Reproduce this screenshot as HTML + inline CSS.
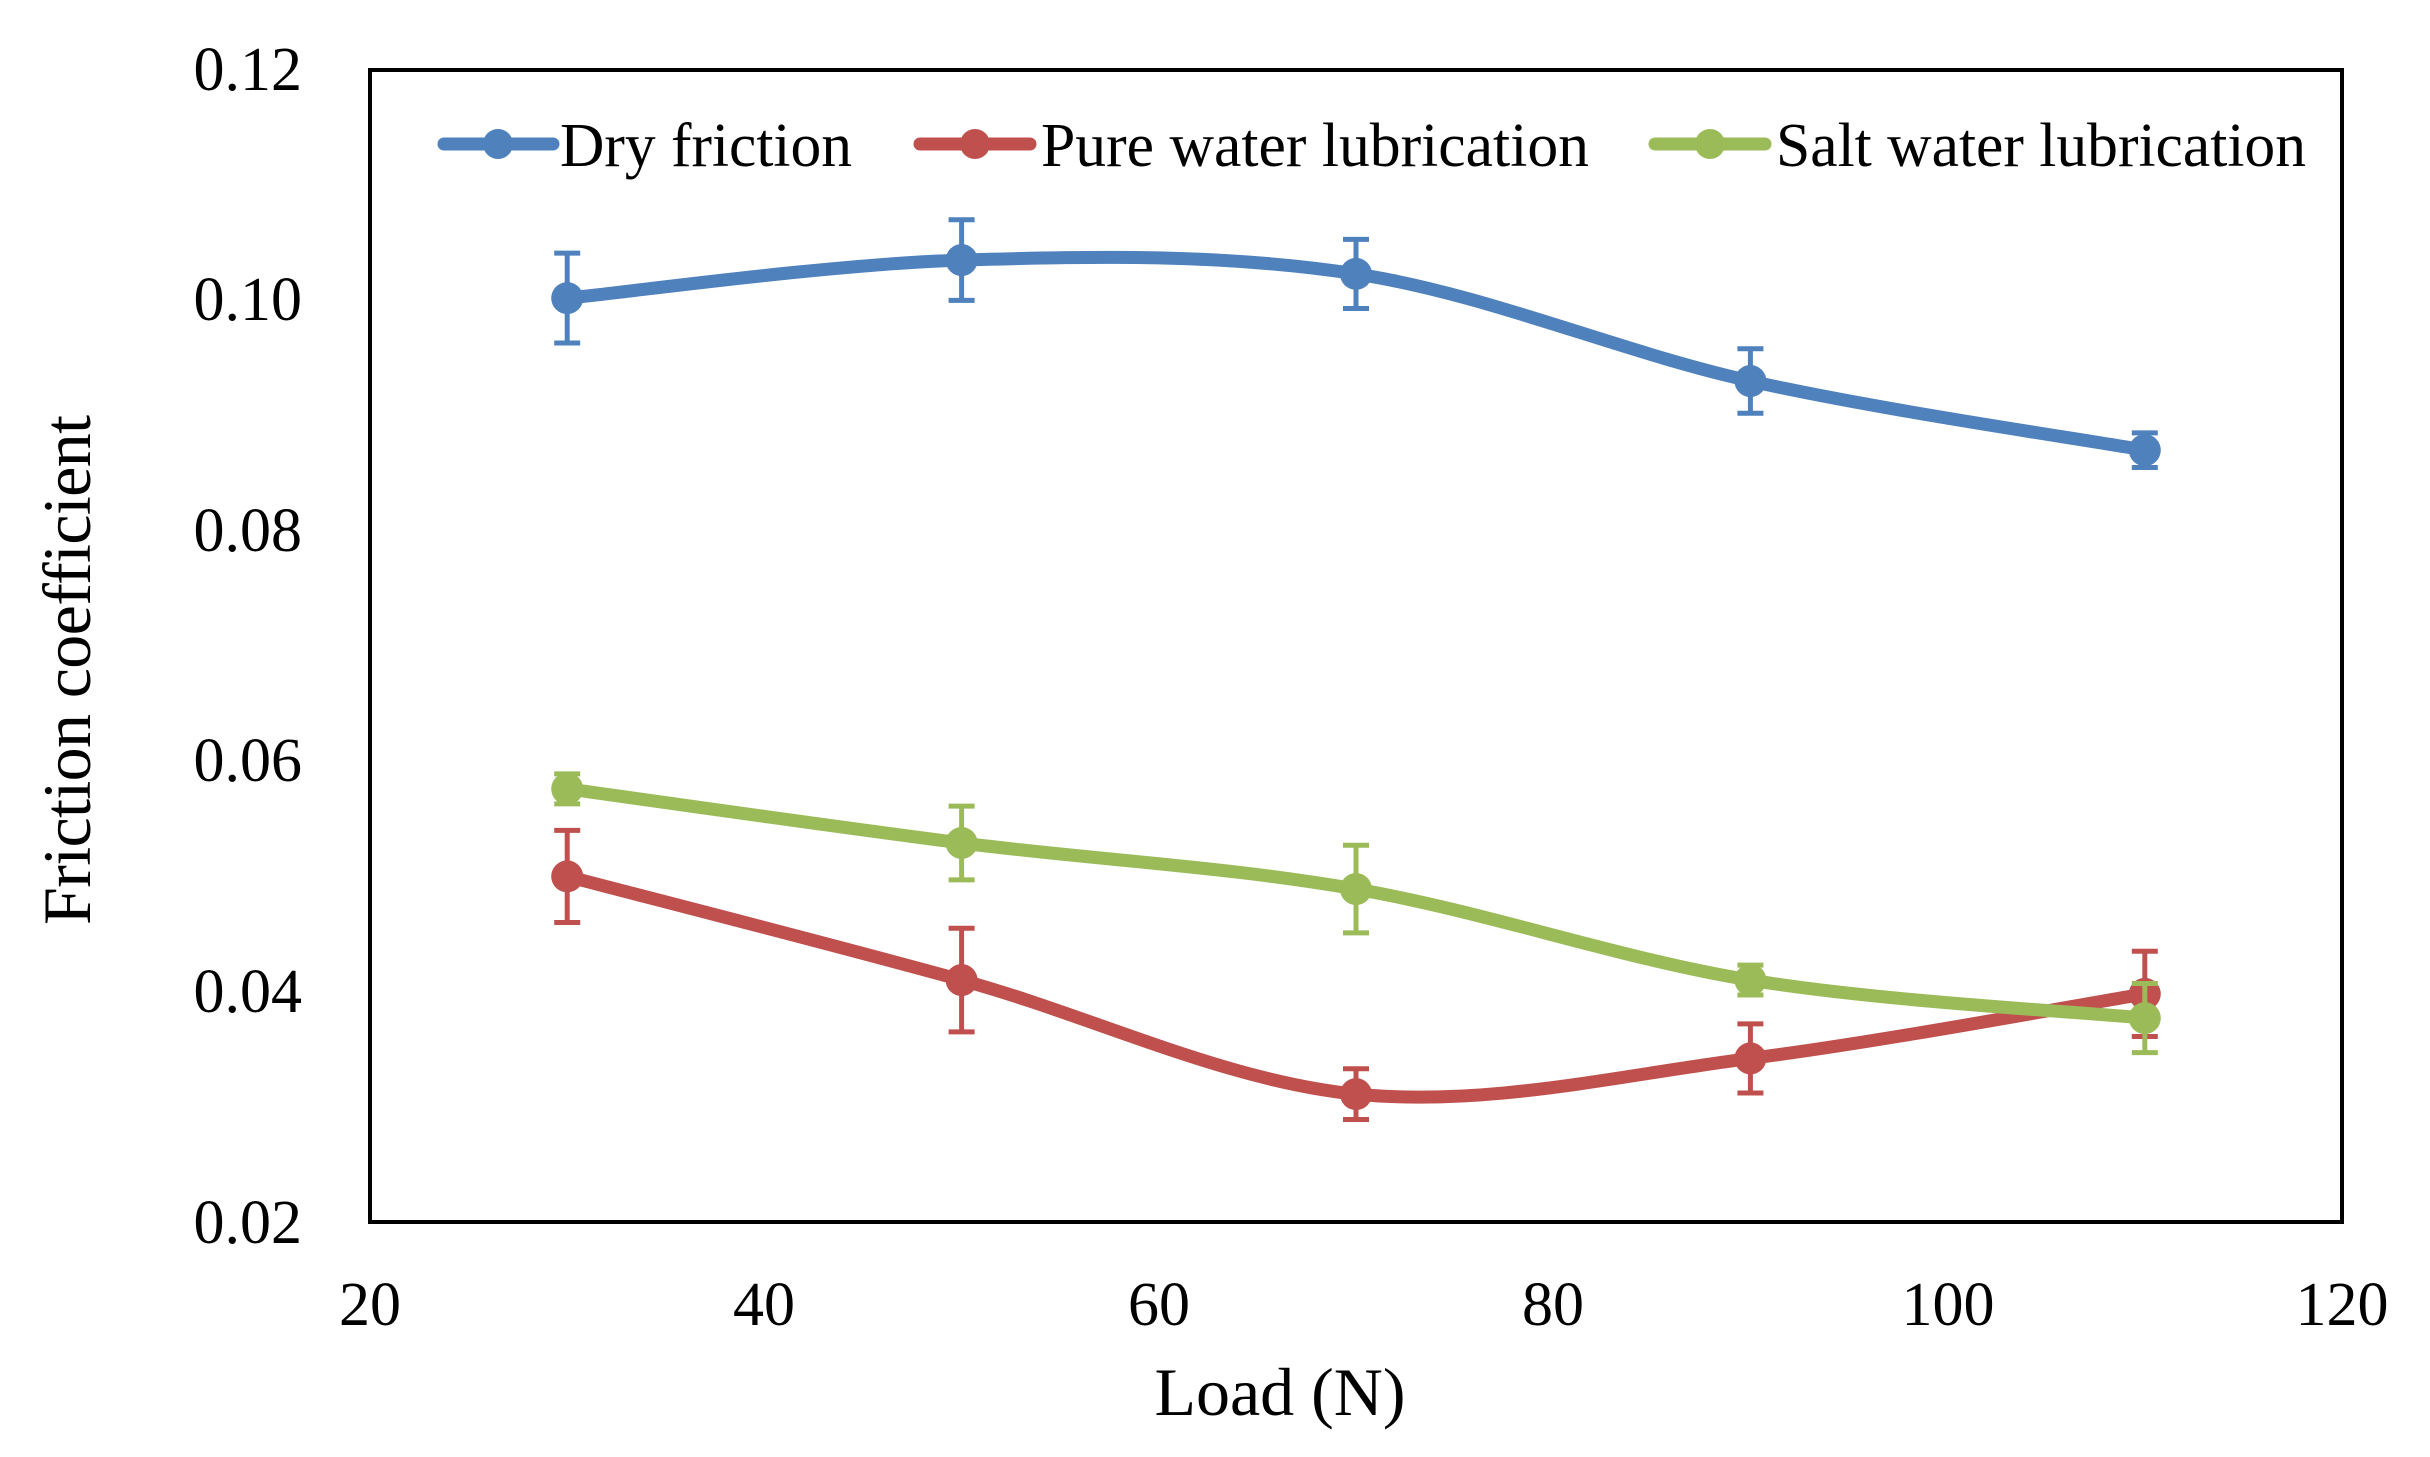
<!DOCTYPE html>
<html><head><meta charset="utf-8"><style>html,body{margin:0;padding:0;background:#fff}svg{display:block}</style></head>
<body>
<svg id="s" width="2430" height="1457" xmlns="http://www.w3.org/2000/svg" font-family="Liberation Serif, serif">
<rect width="2430" height="1457" fill="#fff"/>
<g id="plot"></g>
<rect x="370" y="70" width="1972" height="1152" fill="none" stroke="#000" stroke-width="4"/>
<g font-size="62" fill="#000" text-anchor="end">
<text x="302" y="90">0.12</text>
<text x="302" y="320">0.10</text>
<text x="302" y="551">0.08</text>
<text x="302" y="781">0.06</text>
<text x="302" y="1012">0.04</text>
<text x="302" y="1243">0.02</text>
</g>
<g font-size="62" fill="#000" text-anchor="middle">
<text x="370" y="1325">20</text>
<text x="764" y="1325">40</text>
<text x="1159" y="1325">60</text>
<text x="1553" y="1325">80</text>
<text x="1948" y="1325">100</text>
<text x="2342" y="1325">120</text>
</g>
<g font-size="68" fill="#000" text-anchor="middle">
<text x="1280" y="1415">Load (N)</text>
<text transform="translate(90,670) rotate(-90)" textLength="510">Friction coefficient</text>
</g>
<g font-size="62" fill="#000">
<text x="560" y="166" textLength="292" lengthAdjust="spacingAndGlyphs">Dry friction</text>
<text x="1041" y="166" textLength="548" lengthAdjust="spacingAndGlyphs">Pure water lubrication</text>
<text x="1776" y="166" textLength="530" lengthAdjust="spacingAndGlyphs">Salt water lubrication</text>
</g>
<g stroke-width="13" stroke-linecap="round">
<line x1="444" y1="144" x2="553" y2="144" stroke="#4f81bd"/><circle cx="498" cy="144" r="15" fill="#4f81bd"/>
<line x1="920" y1="144" x2="1030" y2="144" stroke="#c0504d"/><circle cx="975" cy="144" r="15" fill="#c0504d"/>
<line x1="1655" y1="144" x2="1765" y2="144" stroke="#9bbb59"/><circle cx="1710" cy="144" r="15" fill="#9bbb59"/>
</g>
</svg>
<script>
const X=v=>370+(v-20)*19.72, Y=v=>1222-(v-0.02)*11520;
const xs=[30,50,70,90,110];
const S=[
 ["#4f81bd",[0.1002,0.1035,0.1023,0.0930,0.0870],[0.0039,0.0035,0.003,0.0028,0.0015]],
 ["#c0504d",[0.0500,0.0410,0.0311,0.0342,0.0398],[0.004,0.0045,0.0022,0.003,0.0037]],
 ["#9bbb59",[0.0576,0.0529,0.0489,0.0410,0.0377],[0.0013,0.0032,0.0038,0.0013,0.003]]];
let out="";
for(const [c,ys,es] of S){
 const p=xs.map((x,i)=>[X(x),Y(ys[i])]);
 let d=`M${p[0][0]},${p[0][1]}`;
 for(let i=0;i<p.length-1;i++){
  const p0=p[Math.max(i-1,0)],p1=p[i],p2=p[i+1],p3=p[Math.min(i+2,p.length-1)];
  const t=0.5/3;
  d+=` C${p1[0]+(p2[0]-p0[0])*t},${p1[1]+(p2[1]-p0[1])*t} ${p2[0]-(p3[0]-p1[0])*t},${p2[1]-(p3[1]-p1[1])*t} ${p2[0]},${p2[1]}`;
 }
 out+=`<path d="${d}" fill="none" stroke="${c}" stroke-width="13" stroke-linecap="round"/>`;
 xs.forEach((x,i)=>{const cx=X(x),t=Y(ys[i]+es[i]),b=Y(ys[i]-es[i]);
  out+=`<path d="M${cx},${t}V${b}M${cx-13},${t}H${cx+13}M${cx-13},${b}H${cx+13}" stroke="${c}" stroke-width="5" fill="none"/>`;
  out+=`<circle cx="${cx}" cy="${Y(ys[i])}" r="16" fill="${c}"/>`;});
}
document.getElementById("plot").innerHTML=out;
</script>
</body></html>
